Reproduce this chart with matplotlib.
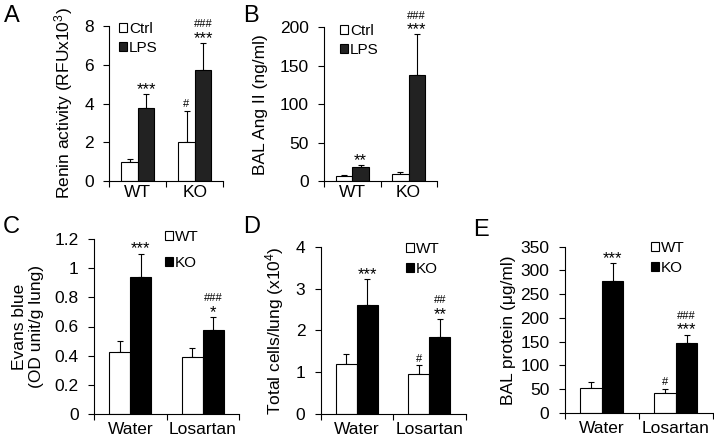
import numpy as np
import matplotlib
matplotlib.use("Agg")
import matplotlib.pyplot as plt
from matplotlib.patches import Patch

plt.rcParams['font.family'] = ['Liberation Sans', 'DejaVu Sans']
plt.rcParams['mathtext.fontset'] = 'custom'
plt.rcParams['mathtext.rm'] = 'Liberation Sans'
plt.rcParams['mathtext.default'] = 'regular'

# ── Data ──
genotypes = ['WT', 'KO']
treatments = ['Water', 'Losartan']

renin_ctrl = [0.98, 2.02]
renin_ctrl_err = [0.18, 1.60]
renin_lps = [3.79, 5.74]
renin_lps_err = [0.70, 1.37]

ang_ctrl = [6.9, 9.5]
ang_ctrl_err = [1.8, 3.1]
ang_lps = [18.6, 138.0]
ang_lps_err = [2.2, 53.0]

evans_wt = [0.428, 0.390]
evans_wt_err = [0.071, 0.063]
evans_ko = [0.940, 0.577]
evans_ko_err = [0.160, 0.090]

cells_wt = [1.195, 0.956]
cells_wt_err = [0.235, 0.205]
cells_ko = [2.60, 1.84]
cells_ko_err = [0.62, 0.44]

protein_wt = [51.9, 42.0]
protein_wt_err = [14.0, 9.0]
protein_ko = [278.0, 147.0]
protein_ko_err = [37.0, 18.0]

W, H = 714, 441
fig = plt.figure(figsize=(W / 100, H / 100), dpi=100)


def add_axes(left, right, top, bottom):
    # pixel box (top-origin) -> figure fraction
    return fig.add_axes([left / W, 1 - bottom / H, (right - left) / W, (bottom - top) / H])


def mark(ax, x, top, stars='', hashes=''):
    if stars:
        ax.annotate(stars, (x, top), xytext=(0, 0), textcoords='offset points',
                    ha='center', va='baseline', fontsize=12)
        if hashes:
            ax.annotate(hashes, (x, top), xytext=(0, 11.3), textcoords='offset points',
                        ha='center', va='baseline', fontsize=8)
    elif hashes:
        ax.annotate(hashes, (x, top), xytext=(0, 2.7), textcoords='offset points',
                    ha='center', va='baseline', fontsize=8)


def bar_panel(ax, cats, v1, e1, v2, e2, c2, labels, ymax, ystep, ylabel,
              ylab_x, marks1, marks2, leg_xy, leg_space, xpad):
    w = 0.29
    x = np.arange(len(cats)) + 0.5
    ax.bar(x - w / 2, v1, w, color='white', edgecolor='black', linewidth=0.8, zorder=2)
    ax.bar(x + w / 2, v2, w, color=c2, edgecolor='black', linewidth=0.8, zorder=2)
    ax.errorbar(x - w / 2, v1, yerr=[np.zeros(len(v1)), e1], fmt='none', ecolor='black',
                elinewidth=0.8, capsize=2.5, capthick=0.8, zorder=1)
    ax.errorbar(x + w / 2, v2, yerr=[np.zeros(len(v2)), e2], fmt='none', ecolor='black',
                elinewidth=0.8, capsize=2.5, capthick=0.8, zorder=1)
    for i in range(len(cats)):
        mark(ax, x[i] - w / 2, v1[i] + e1[i], *marks1[i])
        mark(ax, x[i] + w / 2, v2[i] + e2[i], *marks2[i])

    ax.set_xlim(0, len(cats))
    ax.set_ylim(0, ymax)
    # category boundaries get the tick marks, names sit between them
    ax.set_xticks(np.arange(len(cats) + 1))
    ax.set_xticklabels([])
    ax.set_xticks(x, minor=True)
    ax.set_xticklabels(cats, minor=True, fontsize=12.5)
    ax.tick_params(axis='x', which='major', direction='out', length=4, width=0.8)
    ax.tick_params(axis='x', which='minor', length=0, pad=xpad)
    ax.set_yticks(np.arange(0, ymax + ystep / 2, ystep))
    ax.tick_params(axis='y', direction='out', length=4, width=0.8, pad=7, labelsize=12.5)
    for s in ['top', 'right']:
        ax.spines[s].set_visible(False)
    for s in ['left', 'bottom']:
        ax.spines[s].set_linewidth(0.8)
    ax.set_ylabel(ylabel, fontsize=12.5, va='center', ha='center')
    ax.yaxis.set_label_coords(ylab_x, 0.5)

    handles = [Patch(facecolor='white', edgecolor='black', linewidth=0.8),
               Patch(facecolor=c2, edgecolor='black', linewidth=0.8)]
    fx, fy = leg_xy
    ax.legend(handles, labels, loc='upper left', bbox_to_anchor=(fx / W, 1 - fy / H),
              bbox_transform=fig.transFigure, frameon=False, fontsize=11,
              handlelength=0.55, handleheight=0.55, handletextpad=0.12,
              labelspacing=leg_space, borderpad=0, borderaxespad=0)


dark = '#222222'

# A
axA = add_axes(109.3, 223.3, 25.7, 181.3)
bar_panel(axA, genotypes, renin_ctrl, renin_ctrl_err, renin_lps, renin_lps_err, dark,
          ['Ctrl', 'LPS'], 8, 2, 'Renin activity (RFUx10$^3$)', -0.40,
          [('', ''), ('', '#')], [('***', ''), ('***', '###')],
          (119, 22), 0.3, 3)

# B
axB = add_axes(324.3, 436.7, 27.3, 181.3)
bar_panel(axB, genotypes, ang_ctrl, ang_ctrl_err, ang_lps, ang_lps_err, dark,
          ['Ctrl', 'LPS'], 200, 50, 'BAL Ang II (ng/ml)', -0.57,
          [('', ''), ('', '')], [('**', ''), ('***', '###')],
          (340, 24), 0.32, 3)

# C
axC = add_axes(94, 239, 239, 414)
bar_panel(axC, treatments, evans_wt, evans_wt_err, evans_ko, evans_ko_err, 'black',
          ['WT', 'KO'], 1.2, 0.2, 'Evans blue\n(OD unit/g lung)', -0.455,
          [('', ''), ('', '')], [('***', ''), ('*', '###')],
          (165, 230), 0.8, 6)

# D
axD = add_axes(320.7, 465.6, 246.7, 414)
bar_panel(axD, treatments, cells_wt, cells_wt_err, cells_ko, cells_ko_err, 'black',
          ['WT', 'KO'], 4, 1, 'Total cells/lung (x10$^4$)', -0.32,
          [('', ''), ('', '#')], [('***', ''), ('**', '##')],
          (406, 242), 0.4, 6)

# E
axE = add_axes(564.7, 713, 246.7, 413)
bar_panel(axE, treatments, protein_wt, protein_wt_err, protein_ko, protein_ko_err, 'black',
          ['WT', 'KO'], 350, 50, 'BAL protein (\u03bcg/ml)', -0.38,
          [('', ''), ('', '#')], [('***', ''), ('***', '###')],
          (651, 241), 0.4, 6)

axC.set_yticklabels(['0', '0.2', '0.4', '0.6', '0.8', '1', '1.2'])

# panel letters
for letter, (lx, ly) in zip('ABCDE', [(4, 22), (243, 22), (3, 233), (243, 233), (473, 236)]):
    fig.text(lx / W, 1 - ly / H, letter, fontsize=17, ha='left', va='baseline')

fig.savefig('out.png', dpi=100)
